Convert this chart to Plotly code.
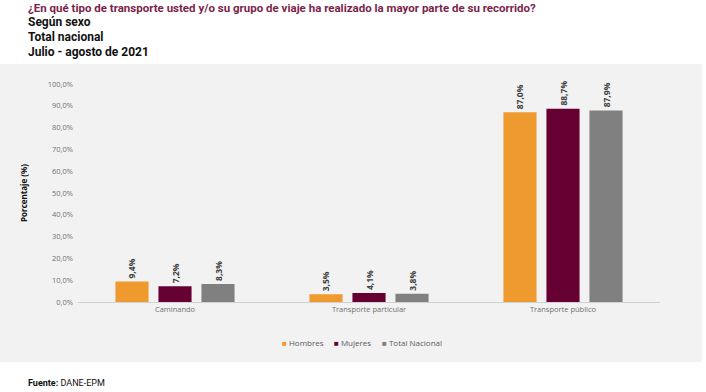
import plotly.graph_objects as go

categories = ["Caminando", "Transporte particular", "Transporte público"]
hombres = [9.4, 3.5, 87.0]
mujeres = [7.2, 4.1, 88.7]
total = [8.3, 3.8, 87.9]
series_names = ["Hombres", "Mujeres", "Total Nacional"]
colors = ["#EE9A2E", "#660033", "#808080"]
y_ticks = [0, 10, 20, 30, 40, 50, 60, 70, 80, 90, 100]
y_tick_labels = [f"{v:.1f}%".replace(".", ",") for v in y_ticks]

W, H = 706, 392
L, R, T, B = 78, 46, 84, 90
pw, ph = W - L - R, H - T - B

def px_x(x):
    return (x - L) / pw

def px_y(y):
    return (H - B - y) / ph

fig = go.Figure()
for name, vals, col in zip(series_names, [hombres, mujeres, total], colors):
    fig.add_trace(go.Bar(
        name=name, x=categories, y=vals, marker_color=col,
        marker_line_width=0, showlegend=False,
        text=[f"<b>{v:.1f}%</b>".replace(".", ",") for v in vals],
        textposition="outside", textangle=-90,
        textfont=dict(size=8.5, color="#404040", family="Open Sans"),
        cliponaxis=False,
    ))

fig.add_shape(type="rect", xref="paper", yref="paper",
              x0=px_x(0), x1=px_x(702), y0=px_y(362), y1=px_y(64),
              fillcolor="#F2F2F2", line_width=0, layer="below")

title_lines = [
    ("¿En qué tipo de transporte usted y/o su grupo de viaje ha realizado la mayor parte de su recorrido?", "#7B1F4B", 8, 11.5),
    ("Según sexo", "#111111", 22, 12),
    ("Total nacional", "#111111", 37, 12),
    ("Julio - agosto de 2021", "#111111", 52, 12),
]
for txt, col, yc, fs in title_lines:
    fig.add_annotation(text=f"<b>{txt}</b>", xref="paper", yref="paper",
                       x=px_x(26), y=px_y(yc), xanchor="left", yanchor="middle",
                       showarrow=False,
                       font=dict(size=fs, color=col, family="Liberation Sans Narrow, Roboto"))

fig.add_annotation(text="<b>Fuente:</b> DANE-EPM", xref="paper", yref="paper",
                   x=px_x(26), y=px_y(383), xanchor="left", yanchor="middle",
                   showarrow=False,
                   font=dict(size=9, color="#111111", family="Liberation Sans Narrow, Roboto"))

# legend built from the series names and colours
legend_x = [280, 332, 380]
for name, col, lx in zip(series_names, colors, legend_x):
    fig.add_annotation(
        text=f"<span style='color:{col}'>■</span><span style='color:#595959'> {name}</span>",
        xref="paper", yref="paper", x=px_x(lx), y=px_y(342),
        xanchor="left", yanchor="middle", showarrow=False,
        font=dict(size=8, family="Open Sans"))

fig.update_layout(
    width=W, height=H,
    margin=dict(l=L, r=R, t=T, b=B),
    paper_bgcolor="white", plot_bgcolor="rgba(0,0,0,0)",
    barmode="group", bargap=0.335, bargroupgap=0.23,
    showlegend=False,
    xaxis=dict(showline=True, linecolor="#D0D0D0", linewidth=1, showgrid=False,
               tickfont=dict(size=7.5, color="#707070", family="Open Sans"), ticks=""),
    yaxis=dict(range=[0, 100], tickvals=y_ticks, ticktext=y_tick_labels, showgrid=False,
               zeroline=False, showline=False, ticklabelstandoff=4,
               tickfont=dict(size=7.5, color="#707070", family="Open Sans"),
               title=dict(text="<b>Porcentaje (%)</b>", standoff=18,
                          font=dict(size=8, color="#111111", family="Open Sans"))),
)

fig.write_html("out.html", config={"displayModeBar": False},
               post_script="document.body.style.margin='0';")
